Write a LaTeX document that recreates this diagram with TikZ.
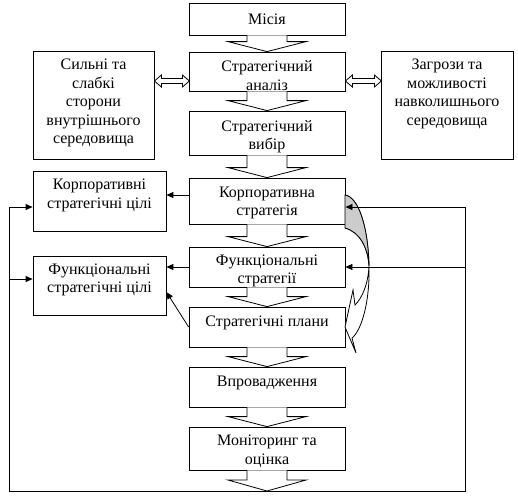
\documentclass[tikz,border=0pt]{standalone}
\usepackage{fontspec}
\setmainfont{Liberation Serif}
\usetikzlibrary{arrows.meta,calc}
\begin{document}
\begin{tikzpicture}[x=1pt,y=-1pt,line width=0.8pt,
  box/.style={draw,rectangle,inner sep=0pt},
  cbox/.style={box,minimum width=156pt},
  txt/.style={font=\fontsize{16}{18.5}\selectfont,align=center,inner sep=0pt},
  arr/.style={-{Triangle[length=7pt,width=6pt]}},
  blk/.style={draw,fill=white,line join=miter}]
\useasboundingbox (0,0) rectangle (518,496);
% central boxes
\node[cbox,minimum height=32pt] (b1) at (267,19) {};
\node[cbox,minimum height=39pt] (b2) at (267,71.5) {};
\node[cbox,minimum height=44pt] (b3) at (267,133) {};
\node[cbox,minimum height=46pt] (b4) at (267,201) {};
\node[cbox,minimum height=40pt] (b5) at (267,267) {};
\node[cbox,minimum height=40pt] (b6) at (267,327) {};
\node[cbox,minimum height=40pt] (b7) at (267,387) {};
\node[cbox,minimum height=43pt] (b8) at (267,448.5) {};
% side boxes
\node[box,minimum width=121pt,minimum height=108pt] (L1) at (93.5,105) {};
\node[box,minimum width=132pt,minimum height=108pt] (R1) at (447,105) {};
\node[box,minimum width=133pt,minimum height=60pt] (L2) at (99.5,201) {};
\node[box,minimum width=133pt,minimum height=59pt] (L3) at (99.5,285.5) {};
% texts
\node[txt] (t1) at (267,19) {Місія};
\node[txt] (t2) at (267,75.5) {Стратегічний\\аналіз};
\node[txt] (t3) at (267,136.5) {Стратегічний\\вибір};
\node[txt] (t4) at (267,203) {Корпоративна\\стратегія};
\node[txt] (t5) at (267,271) {Функціональні\\стратегії};
\node[txt] (t6) at (267,323) {Стратегічні плани};
\node[txt] (t7) at (267,383) {Впровадження};
\node[txt] (t8) at (267,451) {Моніторинг та\\оцінка};
\node[txt] (tl1) at (93.5,103) {Сильні та\\слабкі\\сторони\\внутрішнього\\середовища};
\node[txt] (tr1) at (447,94) {Загрози та\\можливості\\навколишнього\\середовища};
\node[txt] (tl2) at (99.5,195.5) {Корпоративні\\стратегічні цілі};
\node[txt] (tl3) at (99.5,280) {Функціональні\\стратегічні цілі};
% block arrows
\newcommand\blockarr[2]{%
  \draw[blk] ($(#1.south)+(-20,0)$) -- ($(#2.north)+(-20,-10)$) -- ($(#2.north)+(-39,-10)$)
    -- (#2.north) -- ($(#2.north)+(39,-10)$) -- ($(#2.north)+(20,-10)$) -- ($(#1.south)+(20,0)$);}
\coordinate (bot) at (267,491);
\blockarr{b1}{b2}
\blockarr{b2}{b3}
\blockarr{b3}{b4}
\blockarr{b4}{b5}
\blockarr{b5}{b6}
\blockarr{b6}{b7}
\blockarr{b7}{b8}
\draw[blk] ($(b8.south)+(-20,0)$) -- ($(bot)+(-20,-11)$) -- ($(bot)+(-39,-11)$)
    -- (bot) -- ($(bot)+(39,-11)$) -- ($(bot)+(20,-11)$) -- ($(b8.south)+(20,0)$);
% double arrows
\coordinate (ya) at (0,81);
\newcommand\dbl[2]{\draw[fill=white,line join=miter] (#1) -- ++(7,-6) -- ++(0,3.5) -- ++(#2-14,0) -- ++(0,-3.5) -- ++(7,6)
  -- ++(-7,6) -- ++(0,-3.5) -- ++(-#2+14,0) -- ++(0,3.5) -- cycle;}
\dbl{L1.east |- ya}{35}
\dbl{b2.east |- ya}{36}
% curved arrow
\draw[fill=white] (345,195) .. controls (358,197) and (368,225) .. (369,266)
  .. controls (370,300) and (362,330) .. (352,338) -- (356,353) -- (345,327) -- (353,290) -- (355,305)
  .. controls (362,298) and (368,285) .. (369,266) .. controls (368,248) and (360,232) .. (345,228);
\draw[fill=black!20] (345,195) .. controls (358,197) and (368,225) .. (369,266)
  .. controls (368,248) and (360,232) .. (345,228) -- cycle;
% thin arrows
\draw[arr] ($(b4.west)+(0,-6)$) -- ($(L2.east)+(0,-6)$);
\draw[arr] (b5.west) -- (b5.west -| L3.east);
\draw[arr] (b6.west) -- ($(L3.east)+(0,6.5)$);
% feedback loop
\coordinate (lt) at (9,207);
\coordinate (lm) at (9,279);
\coordinate (bl) at (9,491);
\coordinate (br) at (465,491);
\coordinate (rt) at (465,207);
\coordinate (rm) at (465,267);
\draw (lt) -- (bl) -- (br) -- (rt);
\draw[arr] (lt) -- (lt -| L2.west);
\draw[arr] (lm) -- (lm -| L3.west);
\draw[arr] (rt) -- (rt -| b4.east);
\draw[arr] (rm) -- (rm -| b5.east);
\end{tikzpicture}
\end{document}
